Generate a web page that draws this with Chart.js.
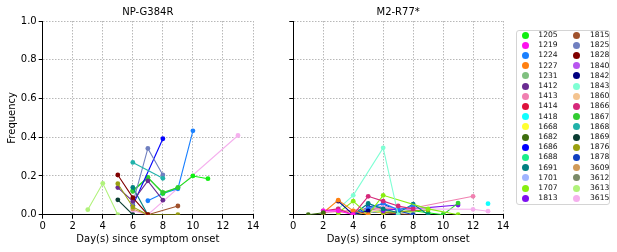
<!DOCTYPE html>
<html>
<head>
<meta charset="utf-8">
<script src="https://cdn.jsdelivr.net/npm/chart.js@4.4.0/dist/chart.umd.min.js"></script>
<style>
  body { margin: 0; background: #fff; width: 617px; height: 252px; overflow: hidden; position: relative; font-family: "DejaVu Sans", sans-serif; }
  canvas { position: absolute; top: 0; }
  #box { position: absolute; left: 516px; top: 30px; width: 94px; height: 175px; border: 1px solid #d4d4d4; border-radius: 3px; box-sizing: border-box; }
  .lab { position: absolute; font-size: 7.6px; line-height: 10px; height: 10px; color: #111; }
  .dot { position: absolute; width: 7px; height: 7px; border-radius: 50%; }
</style>
</head>
<body>
<canvas id="left" width="262" height="252" style="left:0px"></canvas>
<canvas id="right" width="262" height="252" style="left:250px"></canvas>
<div id="box"></div>
<script>
// sample ids and their colours (legend order)
const allIds = ['1205','1219','1224','1227','1231','1412','1413','1414','1418','1668','1682','1686','1688','1691','1701','1707','1813',
  '1815','1825','1828','1840','1842','1843','1860','1866','1867','1868','1869','1876','1878','3609','3612','3613','3615'];
const colors = ['#10ee10','#ff10f0','#1a80ff','#ff8010','#80c080','#6a2c91','#f080b0','#dc143c','#10ffff','#ffff30','#3d6e0e','#0000ff','#1aee8a','#008080','#a0b4ff','#88ee10','#7d10f0',
  '#a0522d','#7080c0','#800000','#b855f0','#000080','#7fffd4','#f4c490','#d6287a','#32cd32','#20b2aa','#0a3c32','#9aa010','#1040c0','#d09a58','#7a8a68','#b0f27a','#f5b0ee'];

const xTicks = [0, 2, 4, 6, 8, 10, 12, 14];
const yTicks = [0, 0.2, 0.4, 0.6, 0.8, 1.0];

// NP-G384R
const npIds = ['3613','1828','1876','1412','1869','3609','1868','1825','1686','1691','1867','1205','1224','3615','1815'];
const npX = [[3,4,5],[5,6,7],[5,6,7,9],[5,6,7,8],[5,6],[6,7],[6,8],[6,7,8],[6,8],[6,7],[6,7,8,9],[6,7,8,9,10,11],[7,8,9,10],[6,7,13],[7,9]];
const npY = [[0.026,0.162,0],[0.205,0.088,0],[0.16,0.04,0,0],[0.14,0.07,0.175,0.075],[0.077,0],[0.03,0],[0.27,0.188],[0.06,0.342,0.205],[0.048,0.392],[0.141,0],
  [0.12,0.19,0.115,0.14],[0.125,0.193,0.11,0.14,0.2,0.186],[0.072,0.11,0.134,0.433],[0.02,0,0.409],[0,0.045]];

// M2-R77*
const m2Ids = ['1682','1219','1866','1227','1842','1843','1707','1224','1691','1413','1418','3615','1867','1813','1876','1878','3613','1668','1825','1815','1860','3612','1686','1840','1205','1701'];
const m2X = [[1,2],[2,3,4],[2,3,4,5,6,7,8],[2,3,4,5],[3,4,5],[3,4,6,7],[3,4,5,6,9,11],[4,5,6,7,8],[4,5,6,7,8,9],[2,5,8,12],[13],[5,6,7,12,13],[10,11],[6,7,8,11],[6,9],
  [4,5,6,7,8],[4,6,8],[4,5,6],[4,5,6,7],[5,6,8],[3,4,5,6],[5,6,7],[5,6,7],[6,7,8],[6,8,9,10],[4,5,6]];
const m2Y = [[0,0.01],[0.02,0.02,0],[0.02,0.03,0,0.095,0.07,0.045,0.03],[0.01,0.075,0.02,0],[0.07,0,0.02],[0.03,0.1,0.345,0],[0.01,0.07,0,0.1,0.03,0],
  [0,0.03,0.06,0.025,0.045],[0,0.058,0.03,0.01,0.055,0],[0.01,0.03,0.035,0.095],[0.057],[0.01,0.04,0.03,0.028,0.018],[0,0.06],[0.02,0.03,0.03,0.05],[0.01,0.025],
  [0,0.04,0.055,0.02,0],[0,0.02,0.01],[0,0.02,0.01],[0,0.025,0.045,0.02],[0.02,0.01,0],[0.01,0.02,0.01,0.03],[0.03,0.02,0.01],[0.01,0.015,0],[0.02,0.035,0.02],[0.01,0.02,0.01,0],[0.01,0.015,0.02]];

const font = { family: 'DejaVu Sans', size: 10, weight: 'normal' };

function makeSets(ids, xs, ys) {
  return ids.map((id, i) => {
    const c = colors[allIds.indexOf(id)];
    return {
      label: id,
      data: xs[i].map((x, j) => ({ x: x, y: ys[i][j] })),
      borderColor: c,
      backgroundColor: c,
      borderWidth: 1.1,
      pointRadius: 2.4,
      pointBorderWidth: 0,
      tension: 0
    };
  });
}

function makeChart(id, title, sets, showY, yWidth) {
  const gridOpts = { color: '#b8b8b8', tickColor: '#000', tickLength: 4, tickBorderDash: [] };
  return new Chart(document.getElementById(id).getContext('2d'), {
    type: 'line',
    data: { datasets: sets },
    options: {
      responsive: false,
      animation: false,
      events: [],
      layout: { padding: { left: 0, right: 9, top: 0, bottom: 0 } },
      plugins: {
        legend: { display: false },
        tooltip: { enabled: false },
        title: { display: true, text: title, color: '#000', font: font, fullSize: false, padding: { top: 6, bottom: 3 } }
      },
      scales: {
        x: {
          type: 'linear', min: 0, max: 14,
          afterBuildTicks: s => { s.ticks = xTicks.map(v => ({ value: v })); },
          ticks: { color: '#000', font: font, padding: 2, maxRotation: 0, autoSkip: false, callback: v => String(v) },
          grid: gridOpts,
          border: { color: '#000', width: 1, dash: [1.5, 1.5] },
          title: { display: true, text: 'Day(s) since symptom onset', color: '#000', font: font, padding: { top: 0, bottom: 7 } },
          afterFit: s => { s.height = 37.3; }
        },
        y: {
          type: 'linear', min: 0, max: 1,
          afterBuildTicks: s => { s.ticks = yTicks.map(v => ({ value: v })); },
          ticks: { color: '#000', font: font, padding: 2, callback: v => showY ? v.toFixed(1) : '' },
          grid: gridOpts,
          border: { color: '#000', width: 1, dash: [1.5, 1.5] },
          title: { display: showY, text: 'Frequency', color: '#000', font: font, padding: { top: 6, bottom: 0 } },
          afterFit: s => { s.width = yWidth; }
        }
      }
    }
  });
}

makeChart('left', 'NP-G384R', makeSets(npIds, npX, npY), true, 42.7);
makeChart('right', 'M2-R77*', makeSets(m2Ids, m2X, m2Y), false, 43.3);

// legend, two columns
const box = document.body;
allIds.forEach((id, i) => {
  const col = Math.floor(i / 17);
  const row = i % 17;
  const cy = 35 + row * 10.2;
  const dx = col === 0 ? 525.7 : 576.7;
  const d = document.createElement('div');
  d.className = 'dot';
  d.style.left = (dx - 3.5) + 'px';
  d.style.top = (cy - 3.5) + 'px';
  d.style.background = colors[i];
  box.appendChild(d);
  const t = document.createElement('div');
  t.className = 'lab';
  t.textContent = id;
  t.style.left = (col === 0 ? 538.3 : 590) + 'px';
  t.style.top = (cy - 5) + 'px';
  box.appendChild(t);
});
</script>
</body>
</html>
